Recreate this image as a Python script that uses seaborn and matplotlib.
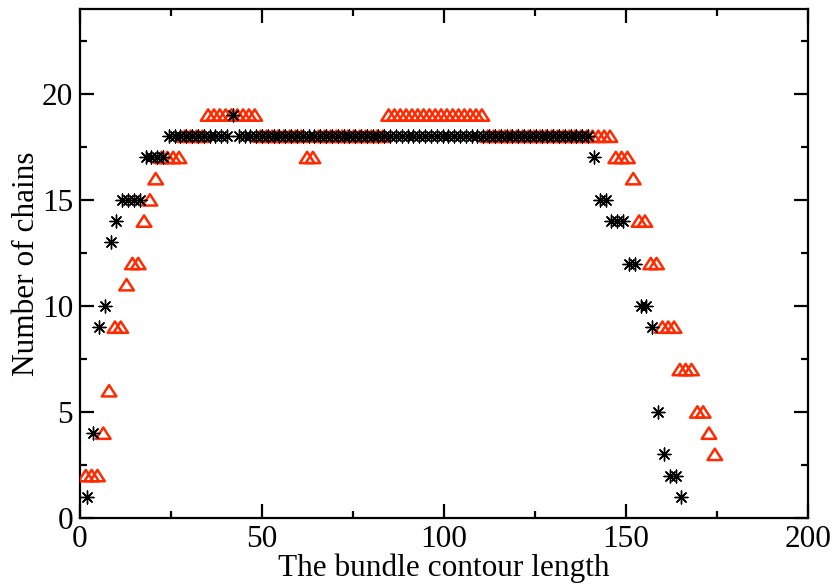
import numpy as np
import pandas as pd
import matplotlib
matplotlib.use("Agg")
import matplotlib.pyplot as plt
from matplotlib.path import Path
from matplotlib.ticker import MultipleLocator
import seaborn as sns

# Chain counts along the bundle, one value per contour position
STEP = 1.6
black_offset = 0.4
black_counts = (
    [1, 4, 9, 10, 13, 14, 15, 15, 15, 15, 17, 17, 17, 17]
    + [18] * 11 + [19] + [18] * 61
    + [17, 15, 15, 14, 14, 14, 12, 12, 10, 10, 9, 5, 3, 2, 2, 1]
)
red_offset = 0.0
red_counts = (
    [2, 2, 2, 4, 6, 9, 9, 11, 12, 12, 14, 15, 16, 17, 17, 17, 17]
    + [18] * 4 + [19] * 9 + [18] * 8 + [17, 17] + [18] * 12
    + [19] * 17 + [18] * 22
    + [17, 17, 17, 16, 14, 14, 12, 12, 9, 9, 9, 7, 7, 7, 5, 5, 4, 3]
)

black_x = black_offset + STEP * np.arange(1, len(black_counts) + 1)
red_x = red_offset + STEP * np.arange(1, len(red_counts) + 1)

df_black = pd.DataFrame({"length": black_x, "chains": black_counts})
df_red = pd.DataFrame({"length": red_x, "chains": red_counts})

sns.set_theme(style="ticks")
plt.rcParams["font.family"] = ["Liberation Serif", "DejaVu Serif"]
plt.rcParams["text.color"] = "black"
plt.rcParams["axes.labelcolor"] = "black"

fig = plt.figure(figsize=(8.35, 5.86), dpi=100)
ax = fig.add_axes([80 / 835, 1 - 518 / 586, 728 / 835, 509 / 586])

tri = Path([(-1, -0.78), (1, -0.78), (0, 0.78), (-1, -0.78)],
           [Path.MOVETO, Path.LINETO, Path.LINETO, Path.CLOSEPOLY])

sns.scatterplot(data=df_red, x="length", y="chains", ax=ax, marker=tri,
                s=110, facecolor="none", edgecolor="#ff2a00",
                linewidth=1.8, zorder=3, legend=False)
sns.scatterplot(data=df_black, x="length", y="chains", ax=ax,
                marker=(8, 2, 0), s=85, color="black",
                linewidth=1.0, zorder=4, legend=False)

ax.set_xlim(0, 200)
ax.set_ylim(0, 24)
ax.xaxis.set_major_locator(MultipleLocator(50))
ax.xaxis.set_minor_locator(MultipleLocator(25))
ax.yaxis.set_major_locator(MultipleLocator(5))
ax.yaxis.set_minor_locator(MultipleLocator(2.5))

ax.tick_params(which="both", direction="in", top=True, right=True,
               width=1.6, labelsize=22.5, colors="black")
ax.tick_params(which="major", length=10, pad=5)
ax.tick_params(which="minor", length=5)
for sp in ax.spines.values():
    sp.set_linewidth(1.6)
    sp.set_color("black")

ax.set_xlabel("The bundle contour length", fontsize=22.5, labelpad=0,
              color="black")
ax.set_ylabel("Number of chains", fontsize=22.5, color="black")
ax.yaxis.set_label_coords(-0.054, 0.5)

fig.savefig("out.png", dpi=100)
